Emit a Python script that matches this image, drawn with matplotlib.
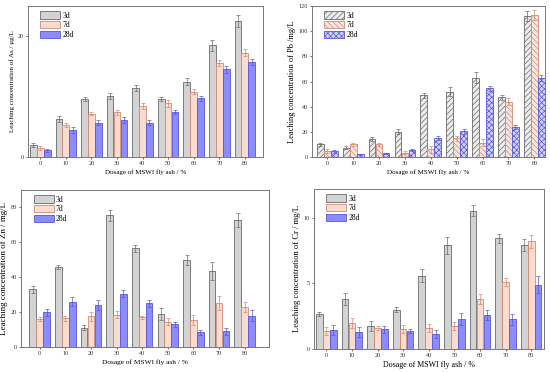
import matplotlib
matplotlib.use("Agg")
import matplotlib.pyplot as plt
import numpy as np

plt.rcParams['font.family'] = ['Liberation Serif', 'DejaVu Serif']

dosage = ["0", "10", "20", "30", "40", "50", "60", "70", "80"]
series = ["3d", "7d", "28d"]

as_3d = [2.0, 6.3, 9.6, 10.1, 11.4, 9.6, 12.5, 18.5, 22.5]
as_7d = [1.5, 5.3, 7.2, 7.4, 8.4, 8.9, 10.8, 15.6, 17.3]
as_28d = [1.1, 4.4, 5.7, 6.2, 5.7, 7.4, 9.7, 14.5, 15.7]
as_3d_err = [0.4, 0.5, 0.4, 0.5, 0.5, 0.4, 0.5, 0.9, 1.0]
as_7d_err = [0.3, 0.4, 0.3, 0.4, 0.5, 0.6, 0.4, 0.5, 0.5]
as_28d_err = [0.2, 0.5, 0.4, 0.5, 0.4, 0.3, 0.4, 0.6, 0.5]

pb_3d = [10, 7.5, 14, 20, 49, 52, 63, 47.5, 112]
pb_7d = [5, 10, 10, 3.5, 6, 15, 11.5, 44, 113]
pb_28d = [4.5, 2, 3, 5.5, 15, 20.5, 54.5, 24, 63]
pb_3d_err = [1.5, 1.5, 1.5, 2, 2, 3.5, 4.5, 2, 4]
pb_7d_err = [1.5, 1.5, 1.5, 1.5, 3, 2, 2.5, 2.5, 4]
pb_28d_err = [1, 0.5, 0.5, 1, 1.5, 2, 2, 1.5, 2.5]

zn_3d = [33, 46, 11, 75.5, 56.5, 19, 50, 43.5, 73]
zn_7d = [16, 16.5, 17.5, 18.5, 17, 14.5, 15.5, 25, 23]
zn_28d = [20, 26, 24, 30.5, 25, 13, 8.5, 9, 18]
zn_3d_err = [2, 1, 1.5, 3, 2, 3.5, 3, 5, 4]
zn_7d_err = [1, 1.5, 2.5, 2, 1, 2, 3, 4, 3]
zn_28d_err = [2, 2.5, 3, 2, 2, 1.5, 1.5, 2, 3]

cr_3d = [2.7, 3.8, 1.75, 3.0, 5.6, 7.9, 10.55, 8.45, 7.9]
cr_7d = [1.4, 2.0, 1.6, 1.55, 1.6, 1.75, 3.8, 5.1, 8.2]
cr_28d = [1.45, 1.3, 1.5, 1.4, 1.15, 2.3, 2.6, 2.25, 4.9]
cr_3d_err = [0.15, 0.45, 0.35, 0.2, 0.5, 0.65, 0.4, 0.35, 0.45]
cr_7d_err = [0.3, 0.4, 0.15, 0.3, 0.3, 0.3, 0.4, 0.3, 0.5]
cr_28d_err = [0.35, 0.35, 0.25, 0.15, 0.3, 0.45, 0.4, 0.45, 0.65]

W, H = 550, 372
fig = plt.figure(figsize=(5.5, 3.72), dpi=100)
plt.rcParams['hatch.linewidth'] = 0.5

def ax_at(l, r, t, b):
    return fig.add_axes([l / W, 1 - b / H, (r - l) / W, (b - t) / H])

faces = ['#d3d3d3', '#f9dccd', '#8c8cff']
edges = ['#6a6a6a', '#d08a78', '#5656d8']
hfaces = ['#ececec', '#fbe6e0', '#d2d2ff']
hatches = ['//////', '\\\\\\\\\\\\', 'xxxxxx']

def panel(ax, data, errs, ylim, yticks, xlim, ylabel, xfs, yfs, hatched=False):
    x = np.arange(len(dosage))
    w = 0.27
    for i, (vals, er) in enumerate(zip(data, errs)):
        kw = dict(width=w * 0.97, edgecolor=edges[i], linewidth=0.6, label=series[i])
        if hatched:
            kw['facecolor'] = hfaces[i]
            kw['hatch'] = hatches[i]
        else:
            kw['color'] = faces[i]
            kw['edgecolor'] = edges[i]
        ax.bar(x + (i - 1) * w, vals, **kw)
        ax.errorbar(x + (i - 1) * w, vals, yerr=er, fmt='none', ecolor=edges[i],
                    elinewidth=0.5, capsize=1.5, capthick=0.5)
    ax.set_xticks(x)
    ax.set_xticklabels(dosage)
    ax.set_xlim(*xlim)
    ax.set_ylim(*ylim)
    ax.set_yticks(yticks)
    ax.tick_params(labelsize=4.5, length=1.5, width=0.5, pad=1.5, colors='#333333')
    for s in ax.spines.values():
        s.set_color('#777777')
        s.set_linewidth(0.7)
    ax.set_xlabel("Dosage of MSWI fly ash / %", fontsize=xfs, labelpad=2)
    ax.set_ylabel(ylabel, fontsize=yfs, labelpad=2)
    ax.legend(loc='upper left', frameon=False, fontsize=5.5,
              handlelength=2.6, handleheight=1.1, labelspacing=0.2,
              borderaxespad=0.3, bbox_to_anchor=(0.03, 1.0), handletextpad=0.3)

ax1 = ax_at(28, 263, 6, 157)
panel(ax1, [as_3d, as_7d, as_28d], [as_3d_err, as_7d_err, as_28d_err],
      (0, 25), [0, 20], (-0.48, 8.71), "Leaching concentration of As / μg/L", 5.0, 5.0)

ax2 = ax_at(312, 545, 6, 157)
panel(ax2, [pb_3d, pb_7d, pb_28d], [pb_3d_err, pb_7d_err, pb_28d_err],
      (0, 120), [0, 20, 40, 60, 80, 100, 120], (-0.59, 8.41),
      "Leaching concentration of Pb /mg/L", 5.1, 6.0, hatched=True)

ax3 = ax_at(21, 269, 190, 347)
panel(ax3, [zn_3d, zn_7d, zn_28d], [zn_3d_err, zn_7d_err, zn_28d_err],
      (0, 90), [0, 20, 40, 60, 80], (-0.73, 8.95),
      "Leaching concentration of Zn / mg/L", 5.3, 6.5)

ax4 = ax_at(314, 544, 189, 349)
panel(ax4, [cr_3d, cr_7d, cr_28d], [cr_3d_err, cr_7d_err, cr_28d_err],
      (0, 12.2), [0, 5, 10], (-0.48, 8.5),
      "Leaching concentration of Cr / mg/L", 5.7, 6.2)

fig.savefig("out.png", dpi=100, facecolor='white')
